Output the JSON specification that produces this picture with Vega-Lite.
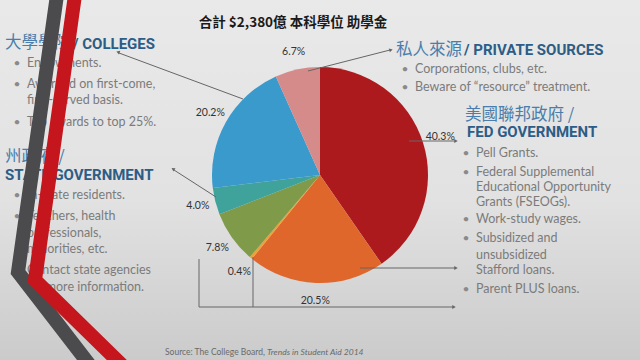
{
  "$schema": "https://vega.github.io/schema/vega-lite/v6.json",
  "width": 640,
  "height": 360,
  "autosize": {"type": "none"},
  "padding": 0,
  "background": "#e0e0e0",
  "config": {"view": {"stroke": null}},
  "datasets": {
    "pie": [
      {"part": "聯邦政府 1", "pct": 40.3, "label": "40.3%", "idx": 1},
      {"part": "聯邦政府 2", "pct": 20.5, "label": "20.5%", "idx": 2},
      {"part": "聯邦政府 3", "pct": 0.4, "label": "0.4%", "idx": 3},
      {"part": "聯邦政府 4", "pct": 7.8, "label": "7.8%", "idx": 4},
      {"part": "州政府", "pct": 4.0, "label": "4.0%", "idx": 5},
      {"part": "大學學院", "pct": 20.2, "label": "20.2%", "idx": 6},
      {"part": "私人來源", "pct": 6.7, "label": "6.7%", "idx": 7}
    ],
    "stripes": [
      {"stripe": "gray", "i": 0, "x": 57, "y": -5},
      {"stripe": "gray", "i": 1, "x": 18, "y": 272},
      {"stripe": "gray", "i": 2, "x": 92, "y": 368},
      {"stripe": "red", "i": 0, "x": 75, "y": -5},
      {"stripe": "red", "i": 1, "x": 35, "y": 280},
      {"stripe": "red", "i": 2, "x": 125, "y": 368}
    ],
    "leaders": [
      {"x": 308, "y": 71, "x2": 390, "y2": 50},
      {"x": 243, "y": 99, "x2": 119, "y2": 53},
      {"x": 216, "y": 197, "x2": 174, "y2": 170},
      {"x": 409, "y": 141, "x2": 455, "y2": 141},
      {"x": 360, "y": 268, "x2": 455, "y2": 268},
      {"x": 199, "y": 259, "x2": 199, "y2": 307},
      {"x": 253, "y": 257, "x2": 253, "y2": 307},
      {"x": 199, "y": 307, "x2": 453, "y2": 307}
    ],
    "heads": [
      {"dir": "right", "x": 456, "y": 141},
      {"dir": "right", "x": 456, "y": 268},
      {"dir": "right", "x": 454, "y": 307},
      {"dir": "upright", "x": 391, "y": 50},
      {"dir": "upleft", "x": 118, "y": 52},
      {"dir": "upleftsteep", "x": 173, "y": 169}
    ],
    "notes": [
      {"kind": "title", "x": 293, "y": 23, "text": "合計 $2,380億 本科學位 助學金"},
      {"kind": "headZh", "x": 5, "y": 43, "text": "大學學院"},
      {"kind": "headZh", "x": 5, "y": 157, "text": "州政府 /"},
      {"kind": "headZh", "x": 396, "y": 50, "text": "私人來源"},
      {"kind": "headZh", "x": 465, "y": 115, "text": "美國聯邦政府 /"},
      {"kind": "headEn", "x": 73, "y": 44, "text": "/ COLLEGES"},
      {"kind": "headEn", "x": 5, "y": 175, "text": "STATE GOVERNMENT"},
      {"kind": "headEn", "x": 464, "y": 50, "text": "/ PRIVATE SOURCES"},
      {"kind": "headEn", "x": 467, "y": 132, "text": "FED GOVERNMENT"},
      {"kind": "bullet", "x": 27, "y": 63, "text": "Endowments."},
      {"kind": "bullet", "x": 27, "y": 84, "text": "Awarded on first-come,"},
      {"kind": "cont", "x": 27, "y": 100, "text": "first-served basis."},
      {"kind": "bullet", "x": 27, "y": 122, "text": "Top awards to top 25%."},
      {"kind": "bullet", "x": 27, "y": 195, "text": "In-state residents."},
      {"kind": "bullet", "x": 27, "y": 216, "text": "Teachers, health"},
      {"kind": "cont", "x": 27, "y": 233, "text": "professionals,"},
      {"kind": "cont", "x": 27, "y": 249, "text": "minorities, etc."},
      {"kind": "bullet", "x": 27, "y": 270, "text": "Contact state agencies"},
      {"kind": "cont", "x": 27, "y": 287, "text": "for more information."},
      {"kind": "bullet", "x": 415, "y": 69, "text": "Corporations, clubs, etc."},
      {"kind": "bullet", "x": 415, "y": 87, "text": "Beware of “resource” treatment."},
      {"kind": "bullet", "x": 476, "y": 153, "text": "Pell Grants."},
      {"kind": "bullet", "x": 476, "y": 172, "text": "Federal Supplemental"},
      {"kind": "cont", "x": 476, "y": 187, "text": "Educational Opportunity"},
      {"kind": "cont", "x": 476, "y": 202, "text": "Grants (FSEOGs)."},
      {"kind": "bullet", "x": 476, "y": 219, "text": "Work-study wages."},
      {"kind": "bullet", "x": 476, "y": 238, "text": "Subsidized and"},
      {"kind": "cont", "x": 476, "y": 255, "text": "unsubsidized"},
      {"kind": "cont", "x": 476, "y": 270, "text": "Stafford loans."},
      {"kind": "bullet", "x": 476, "y": 289, "text": "Parent PLUS loans."},
      {"kind": "source", "x": 165, "y": 352, "text": "Source: The College Board,"},
      {"kind": "sourceIt", "x": 267, "y": 352, "text": "Trends in Student Aid 2014"}
    ]
  },
  "layer": [
    {
      "data": {"values": [{"area": "slide"}]},
      "mark": {
        "type": "rect",
        "color": {
          "gradient": "linear", "x1": 0, "y1": 0, "x2": 0, "y2": 1,
          "stops": [
            {"offset": 0, "color": "#e9e9ea"},
            {"offset": 0.55, "color": "#e2e2e2"},
            {"offset": 1, "color": "#cbcbcb"}
          ]
        }
      },
      "encoding": {
        "x": {"datum": 0, "type": "quantitative", "scale": {"type": "linear", "domain": [0, 640], "nice": false, "zero": false}, "axis": null},
        "x2": {"datum": 640},
        "y": {"datum": 0, "type": "quantitative", "scale": {"type": "linear", "domain": [0, 360], "nice": false, "zero": false, "reverse": true}, "axis": null},
        "y2": {"datum": 360}
      }
    },
    {
      "data": {"name": "notes"},
      "transform": [{"filter": "datum.kind === 'bullet' || datum.kind === 'cont'"}],
      "mark": {"type": "text", "align": "left", "baseline": "middle", "font": "Lato", "fontSize": 12.5, "fill": "#7b7b7b"},
      "encoding": {
        "x": {"field": "x", "type": "quantitative", "scale": {"type": "linear", "domain": [0, 640], "nice": false, "zero": false}, "axis": null},
        "y": {"field": "y", "type": "quantitative", "scale": {"type": "linear", "domain": [0, 360], "nice": false, "zero": false, "reverse": true}, "axis": null},
        "text": {"field": "text"}
      }
    },
    {
      "data": {"name": "notes"},
      "transform": [{"filter": "datum.kind === 'bullet'"}, {"calculate": "'•'", "as": "dot"}],
      "mark": {"type": "text", "align": "center", "baseline": "middle", "font": "Lato", "fontSize": 12, "fill": "#8a8a8a", "dx": -10},
      "encoding": {
        "x": {"field": "x", "type": "quantitative", "scale": {"type": "linear", "domain": [0, 640], "nice": false, "zero": false}, "axis": null},
        "y": {"field": "y", "type": "quantitative", "scale": {"type": "linear", "domain": [0, 360], "nice": false, "zero": false, "reverse": true}, "axis": null},
        "text": {"field": "dot"}
      }
    },
    {
      "data": {"name": "notes"},
      "transform": [{"filter": "datum.kind === 'headZh'"}],
      "mark": {"type": "text", "align": "left", "baseline": "middle", "font": "Noto Sans CJK TC", "fontSize": 16.5, "fill": "#4a7dab"},
      "encoding": {
        "x": {"field": "x", "type": "quantitative", "scale": {"type": "linear", "domain": [0, 640], "nice": false, "zero": false}, "axis": null},
        "y": {"field": "y", "type": "quantitative", "scale": {"type": "linear", "domain": [0, 360], "nice": false, "zero": false, "reverse": true}, "axis": null},
        "text": {"field": "text"}
      }
    },
    {
      "data": {"name": "notes"},
      "transform": [{"filter": "datum.kind === 'headEn'"}],
      "mark": {"type": "text", "align": "left", "baseline": "middle", "font": "Roboto", "fontWeight": "bold", "fontSize": 15, "fill": "#2c5d86"},
      "encoding": {
        "x": {"field": "x", "type": "quantitative", "scale": {"type": "linear", "domain": [0, 640], "nice": false, "zero": false}, "axis": null},
        "y": {"field": "y", "type": "quantitative", "scale": {"type": "linear", "domain": [0, 360], "nice": false, "zero": false, "reverse": true}, "axis": null},
        "text": {"field": "text"}
      }
    },
    {
      "data": {"name": "notes"},
      "transform": [{"filter": "datum.kind === 'title'"}],
      "mark": {"type": "text", "align": "center", "baseline": "middle", "font": "Noto Sans CJK TC", "fontWeight": "bold", "fontSize": 13.5, "fill": "#1a1a1a"},
      "encoding": {
        "x": {"field": "x", "type": "quantitative", "scale": {"type": "linear", "domain": [0, 640], "nice": false, "zero": false}, "axis": null},
        "y": {"field": "y", "type": "quantitative", "scale": {"type": "linear", "domain": [0, 360], "nice": false, "zero": false, "reverse": true}, "axis": null},
        "text": {"field": "text"}
      }
    },
    {
      "data": {"name": "notes"},
      "transform": [{"filter": "datum.kind === 'source'"}],
      "mark": {"type": "text", "align": "left", "baseline": "middle", "font": "Lato", "fontSize": 8.5, "fill": "#6a6a6a"},
      "encoding": {
        "x": {"field": "x", "type": "quantitative", "scale": {"type": "linear", "domain": [0, 640], "nice": false, "zero": false}, "axis": null},
        "y": {"field": "y", "type": "quantitative", "scale": {"type": "linear", "domain": [0, 360], "nice": false, "zero": false, "reverse": true}, "axis": null},
        "text": {"field": "text"}
      }
    },
    {
      "data": {"name": "notes"},
      "transform": [{"filter": "datum.kind === 'sourceIt'"}],
      "mark": {"type": "text", "align": "left", "baseline": "middle", "font": "Lato", "fontStyle": "italic", "fontSize": 8.5, "fill": "#6a6a6a"},
      "encoding": {
        "x": {"field": "x", "type": "quantitative", "scale": {"type": "linear", "domain": [0, 640], "nice": false, "zero": false}, "axis": null},
        "y": {"field": "y", "type": "quantitative", "scale": {"type": "linear", "domain": [0, 360], "nice": false, "zero": false, "reverse": true}, "axis": null},
        "text": {"field": "text"}
      }
    },
    {
      "data": {"name": "stripes"},
      "transform": [{"filter": "datum.stripe === 'gray'"}],
      "mark": {"type": "line", "stroke": "#4b4b4d", "strokeWidth": 14, "strokeJoin": "miter", "strokeCap": "butt"},
      "encoding": {
        "x": {"field": "x", "type": "quantitative", "scale": {"type": "linear", "domain": [0, 640], "nice": false, "zero": false}, "axis": null},
        "y": {"field": "y", "type": "quantitative", "scale": {"type": "linear", "domain": [0, 360], "nice": false, "zero": false, "reverse": true}, "axis": null},
        "order": {"field": "i", "type": "quantitative"}
      }
    },
    {
      "data": {"name": "stripes"},
      "transform": [{"filter": "datum.stripe === 'red'"}],
      "mark": {"type": "line", "stroke": "#c4161c", "strokeWidth": 14, "strokeJoin": "miter", "strokeCap": "butt"},
      "encoding": {
        "x": {"field": "x", "type": "quantitative", "scale": {"type": "linear", "domain": [0, 640], "nice": false, "zero": false}, "axis": null},
        "y": {"field": "y", "type": "quantitative", "scale": {"type": "linear", "domain": [0, 360], "nice": false, "zero": false, "reverse": true}, "axis": null},
        "order": {"field": "i", "type": "quantitative"}
      }
    },
    {
      "data": {"name": "pie"},
      "mark": {"type": "arc", "radius": 108},
      "encoding": {
        "x": {"datum": 320, "type": "quantitative", "scale": {"type": "linear", "domain": [0, 640], "nice": false, "zero": false}, "axis": null},
        "y": {"datum": 175, "type": "quantitative", "scale": {"type": "linear", "domain": [0, 360], "nice": false, "zero": false, "reverse": true}, "axis": null},
        "theta": {"field": "pct", "type": "quantitative", "stack": true},
        "order": {"field": "idx", "type": "quantitative"},
        "color": {
          "field": "part", "type": "nominal", "legend": null,
          "scale": {
            "domain": ["聯邦政府 1", "聯邦政府 2", "聯邦政府 3", "聯邦政府 4", "州政府", "大學學院", "私人來源"],
            "range": ["#ad1a1e", "#e0672c", "#e9a23a", "#7f9a48", "#3fa39c", "#3a9acb", "#d68b8b"]
          }
        }
      }
    },
    {
      "data": {"name": "leaders"},
      "mark": {"type": "rule", "stroke": "#666666", "strokeWidth": 1},
      "encoding": {
        "x": {"field": "x", "type": "quantitative", "scale": {"type": "linear", "domain": [0, 640], "nice": false, "zero": false}, "axis": null},
        "y": {"field": "y", "type": "quantitative", "scale": {"type": "linear", "domain": [0, 360], "nice": false, "zero": false, "reverse": true}, "axis": null},
        "x2": {"field": "x2"},
        "y2": {"field": "y2"}
      }
    },
    {
      "data": {"name": "heads"},
      "transform": [{"filter": "datum.dir === 'right'"}],
      "mark": {"type": "point", "shape": "triangle-right", "filled": true, "fill": "#666666", "size": 16, "opacity": 1},
      "encoding": {
        "x": {"field": "x", "type": "quantitative", "scale": {"type": "linear", "domain": [0, 640], "nice": false, "zero": false}, "axis": null},
        "y": {"field": "y", "type": "quantitative", "scale": {"type": "linear", "domain": [0, 360], "nice": false, "zero": false, "reverse": true}, "axis": null}
      }
    },
    {
      "data": {"name": "heads"},
      "transform": [{"filter": "datum.dir === 'upright'"}],
      "mark": {"type": "point", "shape": "triangle-right", "filled": true, "fill": "#666666", "size": 16, "opacity": 1, "angle": 346},
      "encoding": {
        "x": {"field": "x", "type": "quantitative", "scale": {"type": "linear", "domain": [0, 640], "nice": false, "zero": false}, "axis": null},
        "y": {"field": "y", "type": "quantitative", "scale": {"type": "linear", "domain": [0, 360], "nice": false, "zero": false, "reverse": true}, "axis": null}
      }
    },
    {
      "data": {"name": "heads"},
      "transform": [{"filter": "datum.dir === 'upleft'"}],
      "mark": {"type": "point", "shape": "triangle-left", "filled": true, "fill": "#666666", "size": 16, "opacity": 1, "angle": 20},
      "encoding": {
        "x": {"field": "x", "type": "quantitative", "scale": {"type": "linear", "domain": [0, 640], "nice": false, "zero": false}, "axis": null},
        "y": {"field": "y", "type": "quantitative", "scale": {"type": "linear", "domain": [0, 360], "nice": false, "zero": false, "reverse": true}, "axis": null}
      }
    },
    {
      "data": {"name": "heads"},
      "transform": [{"filter": "datum.dir === 'upleftsteep'"}],
      "mark": {"type": "point", "shape": "triangle-left", "filled": true, "fill": "#666666", "size": 16, "opacity": 1, "angle": 32},
      "encoding": {
        "x": {"field": "x", "type": "quantitative", "scale": {"type": "linear", "domain": [0, 640], "nice": false, "zero": false}, "axis": null},
        "y": {"field": "y", "type": "quantitative", "scale": {"type": "linear", "domain": [0, 360], "nice": false, "zero": false, "reverse": true}, "axis": null}
      }
    },
    {
      "data": {"name": "pie"},
      "mark": {"type": "text", "radius": 126, "font": "Lato", "fontSize": 10.5, "fill": "#333333", "baseline": "middle", "align": "center"},
      "encoding": {
        "x": {"datum": 320, "type": "quantitative", "scale": {"type": "linear", "domain": [0, 640], "nice": false, "zero": false}, "axis": null},
        "y": {"datum": 175, "type": "quantitative", "scale": {"type": "linear", "domain": [0, 360], "nice": false, "zero": false, "reverse": true}, "axis": null},
        "theta": {"field": "pct", "type": "quantitative", "stack": true},
        "order": {"field": "idx", "type": "quantitative"},
        "text": {"field": "label"}
      }
    }
  ]
}
